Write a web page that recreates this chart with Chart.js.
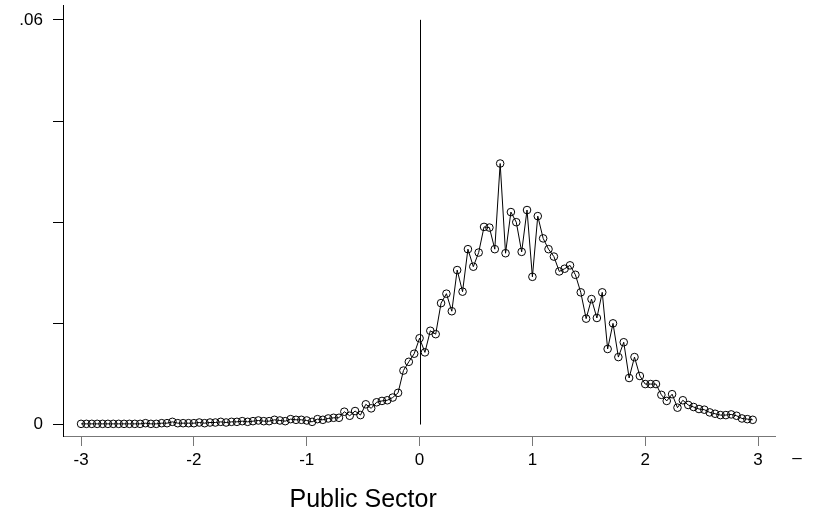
<!DOCTYPE html>
<html>
<head>
<meta charset="utf-8">
<script src="https://cdn.jsdelivr.net/npm/chart.js@4"></script>
<style>
  html, body { margin: 0; padding: 0; background: #fff; }
</style>
</head>
<body>
<canvas id="density" width="820" height="516"></canvas>
<script>
// bin centres on the Public Sector scale
const binCentres = [
  -3, -2.9524, -2.9048, -2.8571, -2.8095, -2.7619, -2.7143, -2.6667, -2.619, -2.5714, -2.5238,
  -2.4762, -2.4286, -2.381, -2.3333, -2.2857, -2.2381, -2.1905, -2.1429, -2.0952, -2.0476,
  -2, -1.9524, -1.9048, -1.8571, -1.8095, -1.7619, -1.7143, -1.6667, -1.619, -1.5714, -1.5238,
  -1.4762, -1.4286, -1.381, -1.3333, -1.2857, -1.2381, -1.1905, -1.1429, -1.0952, -1.0476,
  -1, -0.9524, -0.9048, -0.8571, -0.8095, -0.7619, -0.7143, -0.6667, -0.619, -0.5714, -0.5238,
  -0.4762, -0.4286, -0.381, -0.3333, -0.2857, -0.2381, -0.1905, -0.1429, -0.0952, -0.0476,
  0, 0.0476, 0.0952, 0.1429, 0.1905, 0.2381, 0.2857, 0.3333, 0.381, 0.4286, 0.4762,
  0.5238, 0.5714, 0.619, 0.6667, 0.7143, 0.7619, 0.8095, 0.8571, 0.9048, 0.9524,
  1, 1.0476, 1.0952, 1.1429, 1.1905, 1.2381, 1.2857, 1.3333, 1.381, 1.4286, 1.4762,
  1.5238, 1.5714, 1.619, 1.6667, 1.7143, 1.7619, 1.8095, 1.8571, 1.9048, 1.9524,
  2, 2.0476, 2.0952, 2.1429, 2.1905, 2.2381, 2.2857, 2.3333, 2.381, 2.4286, 2.4762,
  2.5238, 2.5714, 2.619, 2.6667, 2.7143, 2.7619, 2.8095, 2.8571, 2.9048, 2.9524
];

const density = [
  0.0001, 0.0001, 0.0001, 0.0001, 0.0001, 0.0001, 0.0001, 0.0001, 0.0001, 0.0001,
  0.0001, 0.0001, 0.0002, 0.0001, 0.0001, 0.0002, 0.0002, 0.0004, 0.0002, 0.0002,
  0.0002, 0.0002, 0.0003, 0.0002, 0.0003, 0.0003, 0.0004, 0.0003, 0.0004, 0.0004,
  0.0005, 0.0004, 0.0005, 0.0006, 0.0005, 0.0005, 0.0007, 0.0006, 0.0005, 0.0008,
  0.0007, 0.0007, 0.0006, 0.0004, 0.0008, 0.0007, 0.0009, 0.0010, 0.0010, 0.0019,
  0.0013, 0.0020, 0.0014, 0.0030, 0.0024, 0.0033, 0.0035, 0.0036, 0.0040, 0.0047,
  0.0080, 0.0093, 0.0105, 0.0128, 0.0107, 0.0139, 0.0134, 0.0180, 0.0194, 0.0168,
  0.0229, 0.0197, 0.0260, 0.0234, 0.0255, 0.0293, 0.0292, 0.0260, 0.0387, 0.0254,
  0.0315, 0.0300, 0.0256, 0.0318, 0.0219, 0.0309, 0.0276, 0.0260, 0.0249, 0.0227,
  0.0231, 0.0236, 0.0222, 0.0196, 0.0157, 0.0186, 0.0158, 0.0196, 0.0112, 0.0150,
  0.0100, 0.0122, 0.0069, 0.0100, 0.0072, 0.0060, 0.0060, 0.0060, 0.0044, 0.0035,
  0.0045, 0.0025, 0.0036, 0.0029, 0.0026, 0.0023, 0.0022, 0.0018, 0.0016, 0.0014,
  0.0014, 0.0015, 0.0013, 0.0009, 0.0008, 0.0007
];

const xTicks = [-3, -2, -1, 0, 1, 2, 3];
const yTicks = [0, 0.015, 0.03, 0.045, 0.06];
const yLabels = { 0: "0", 0.06: ".06" };
const xTitle = "Public Sector";
const cutoff = 0;

const font = "'Liberation Sans', Arial, sans-serif";

// vertical reference line at zero, title under the axis, and the stray dash
const extras = {
  id: "extras",
  afterDatasetsDraw(chart) {
    const { ctx, scales: { x, y }, chartArea } = chart;
    ctx.save();
    ctx.strokeStyle = "#000";
    ctx.lineWidth = 1;
    const px = Math.round(x.getPixelForValue(cutoff)) + 0.5;
    ctx.beginPath();
    ctx.moveTo(px, y.getPixelForValue(0.06));
    ctx.lineTo(px, y.getPixelForValue(0));
    ctx.stroke();

    ctx.fillStyle = "#000";
    ctx.font = "25px " + font;
    ctx.textAlign = "center";
    ctx.textBaseline = "alphabetic";
    ctx.fillText(xTitle, x.getPixelForValue(-0.5), 507);

    ctx.font = "17px " + font;
    ctx.fillText("\u2013", chartArea.right + 22, 463);
    ctx.restore();
  }
};

new Chart(document.getElementById("density"), {
  type: "line",
  data: {
    datasets: [{
      data: binCentres.map((v, i) => ({ x: v, y: density[i] })),
      borderColor: "#000",
      borderWidth: 1,
      pointRadius: 3.8,
      pointBorderWidth: 1,
      pointBorderColor: "#000",
      pointBackgroundColor: "rgba(0,0,0,0)",
      tension: 0
    }]
  },
  options: {
    responsive: false,
    animation: false,
    devicePixelRatio: 1,
    layout: { padding: { top: 5, right: 45, left: 0, bottom: 0 } },
    plugins: { legend: { display: false }, tooltip: { enabled: false } },
    scales: {
      x: {
        type: "linear",
        min: -3.16,
        max: 3.15,
        afterBuildTicks: s => { s.ticks = xTicks.map(v => ({ value: v })); },
        afterFit: s => { s.height = 80; s.paddingLeft = 0; s.paddingRight = 0; },
        border: { display: true, color: "#777", width: 1 },
        grid: { drawOnChartArea: false, drawTicks: true, tickLength: 10, color: "#777" },
        ticks: {
          color: "#000",
          padding: 4,
          maxRotation: 0,
          font: { family: font, size: 17 },
          callback: v => String(v)
        }
      },
      y: {
        type: "linear",
        min: -0.0017,
        max: 0.0622,
        afterBuildTicks: s => { s.ticks = yTicks.map(v => ({ value: v })); },
        afterFit: s => { s.width = 63; s.paddingTop = 0; s.paddingBottom = 0; },
        border: { display: true, color: "#000", width: 1 },
        grid: { drawOnChartArea: false, drawTicks: true, tickLength: 10, color: "#000" },
        ticks: {
          color: "#000",
          padding: 10,
          font: { family: font, size: 17 },
          callback: v => (yLabels[v] !== undefined ? yLabels[v] : "")
        }
      }
    }
  },
  plugins: [extras]
});
</script>
</body>
</html>
